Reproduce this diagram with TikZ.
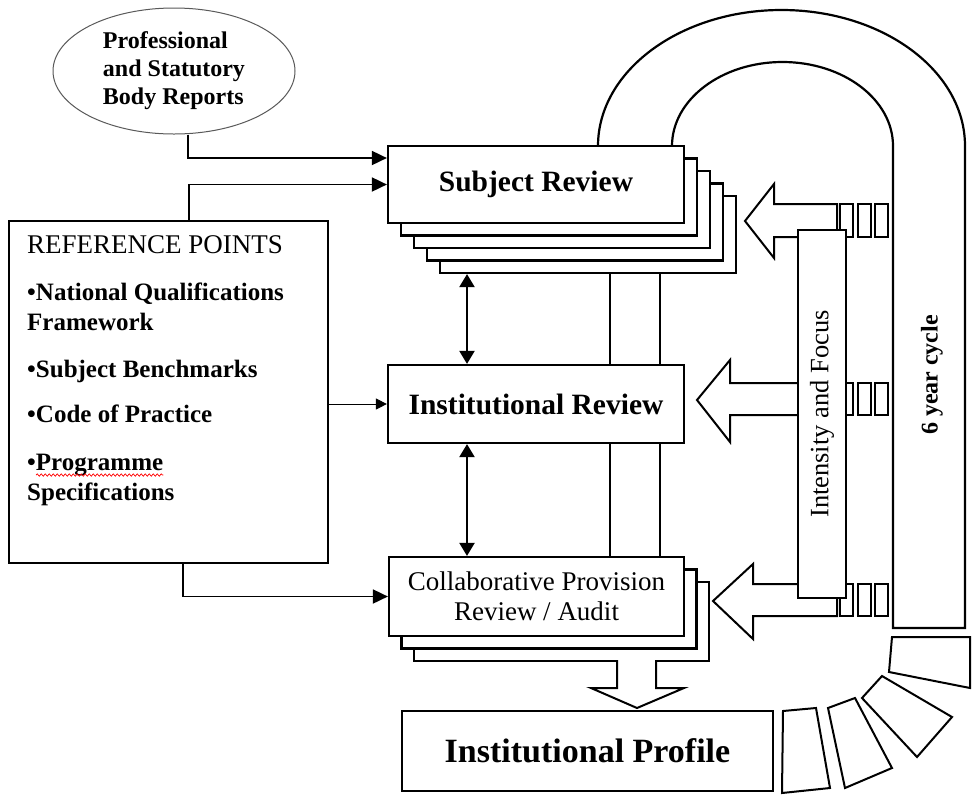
\documentclass[tikz,border=0pt]{standalone}
\usepackage{fontspec}
\setmainfont{Liberation Serif}
\usetikzlibrary{arrows.meta,calc,shapes.geometric,decorations.pathmorphing}
\begin{document}
\begin{tikzpicture}[x=1pt,y=-1pt,
  box/.style={draw,line width=2.2pt,fill=white,inner sep=0pt},
  conn/.style={line width=1.8pt,-{Triangle[length=15pt,width=14pt]}},
  thinconn/.style={line width=1pt,-{Triangle[length=11pt,width=11pt]}},
  dbl/.style={line width=2.2pt,{Triangle[length=13pt,width=15pt]}-{Triangle[length=13pt,width=15pt]}},
  shapeline/.style={line width=2pt,fill=white,line join=miter},
  seg/.style={line width=2pt,line join=miter},
  bigbold/.style={font=\fontsize{29.5}{34}\selectfont\bfseries},
  rptext/.style={anchor=base west,inner sep=0pt,font=\fontsize{25}{30}\selectfont\bfseries},
]
\useasboundingbox (0,0) rectangle (972,796);
\fill[white] (0,0) rectangle (972,796);

% six-year cycle band
\draw[line width=2.2pt] (598,146) .. controls (598,70.9) and (680.2,10) .. (781.5,10)
  .. controls (882.8,10) and (965,70.9) .. (965,146) -- (965,628) -- (893,628) -- (893,146)
  .. controls (893,99.6) and (843.5,62) .. (782.5,62) .. controls (721.5,62) and (672,99.6) .. (672,146);
\node[rotate=90,inner sep=0pt,font=\fontsize{24}{28}\selectfont\bfseries] (cyc) at (932,375) {6 year cycle};

% curved segments
\draw[seg] (892,637) -- (970,637) -- (970,688) -- (889,672) -- cycle;
\draw[seg] (882,676) -- (952,717) -- (917,757) -- (862,698) -- cycle;
\draw[seg] (855,698) -- (892,768) -- (845,788) -- (828,708) -- cycle;
\draw[seg] (783,711) -- (816,708) -- (830,788) -- (782,793) -- cycle;

% professional body ellipse
\node[ellipse,draw=black!65,line width=1pt,minimum width=242,minimum height=126,inner sep=0pt,
  align=left,font=\fontsize{24}{28}\selectfont\bfseries] (pe) at (174,71)
  {Professional\\and Statutory\\Body Reports};

% subject review stack
\foreach \k in {4,3,2,1}
  \node[box,minimum width=296,minimum height=77] (srb\k) at ({536+13*\k},{184.5+12.5*\k}) {};
\node[box,minimum width=296,minimum height=77,bigbold] (sr) at (536,184.5) {Subject Review};

% institutional review
\node[box,minimum width=296,minimum height=78,bigbold] (ir) at (536,404) {Institutional Review};

% collaborative provision stack
\foreach \k in {2,1}
  \node[box,minimum width=295,minimum height=79] (cpb\k) at ({536.5+12.5*\k},{596.5+12.5*\k}) {};
\node[box,minimum width=295,minimum height=79,align=center,
  font=\fontsize{27}{30}\selectfont] (cp) at (536.5,596.5) {Collaborative Provision\\Review / Audit};

% institutional profile
\node[box,minimum width=371,minimum height=80,font=\fontsize{34}{40}\selectfont\bfseries] (ip) at (587.5,751) {Institutional Profile};

% reference points
\node[box,line width=2pt,minimum width=319,minimum height=342,anchor=north west] (rp) at (8,220) {};
\node[anchor=base west,inner sep=0pt,font=\fontsize{27}{30}\selectfont] (rp0) at (27,253) {REFERENCE POINTS};
\node[rptext] (rp1) at (27,300) {•National Qualifications};
\node[rptext] (rp2) at (27,330) {Framework};
\node[rptext] (rp3) at (27,377) {•Subject Benchmarks};
\node[rptext] (rp4) at (27,422) {•Code of Practice};
\node[rptext] (rp5) at (27,470) {•Programme};
\node[rptext] (rp6) at (27,500) {Specifications};
\draw[red,line width=0.7pt,decorate,decoration={snake,amplitude=1.2pt,segment length=4pt}]
  ($(rp5.base west)+(9,5)$) -- ($(rp5.base east)+(0,5)$);

% vertical links between reviews
\coordinate (v1) at ($(ir.north)+(74,0)$);
\coordinate (v2) at ($(ir.north)+(124,0)$);
\coordinate (d1) at ($(ir.north)+(-69,0)$);
\draw[line width=2pt] (v1 |- srb4.south) -- (v1);
\draw[line width=1.6pt] (v2 |- srb4.south) -- (v2);
\draw[line width=2pt] (v1 |- ir.south) -- (v1 |- cp.north);
\draw[line width=1.6pt] (v2 |- ir.south) -- (v2 |- cp.north);
\draw[dbl] (d1 |- srb4.south) -- (d1);
\draw[dbl] (d1 |- ir.south) -- (d1 |- cp.north);

% block arrows from the right
\draw[shapeline] (837,204) -- (774,204) -- (774,184) -- (745,221) -- (774,258) -- (774,237) -- (837,237) -- cycle;
\draw[shapeline] (837,383) -- (730,383) -- (730,360) -- (697,400) -- (730,442) -- (730,415) -- (837,415) -- cycle;
\draw[shapeline] (837,584) -- (753,584) -- (753,564) -- (713,601) -- (753,639) -- (753,616) -- (837,616) -- cycle;
\foreach \ya/\yb in {204/237,383/415,584/616}
  \foreach \xa/\xb in {840/853,858/871,875/888}
    \draw[line width=2pt] (\xa,\ya) rectangle (\xb,\yb);

% intensity and focus
\node[draw,fill=white,line width=1.5pt,rotate=90,minimum width=368,minimum height=48,inner sep=0pt,
  font=\fontsize{26.5}{30}\selectfont] (inf) at (822,414) {Intensity and Focus};

% down block arrow to profile
\draw[shapeline] (617,660) -- (617,688) -- (591,688) -- (637,708) -- (684,688) -- (656,688) -- (656,660);

% connectors
\draw[conn] ($(pe.south)+(14,0)$) |- ($(sr.west)+(0,-26.5)$);
\draw[conn] ($(rp.north)+(20.5,0)$) |- (sr.west);
\draw[thinconn] (rp.east |- ir.west) -- (ir.west);
\draw[conn] ($(rp.south)+(14.5,0)$) |- (cp.west);
\end{tikzpicture}
\end{document}
